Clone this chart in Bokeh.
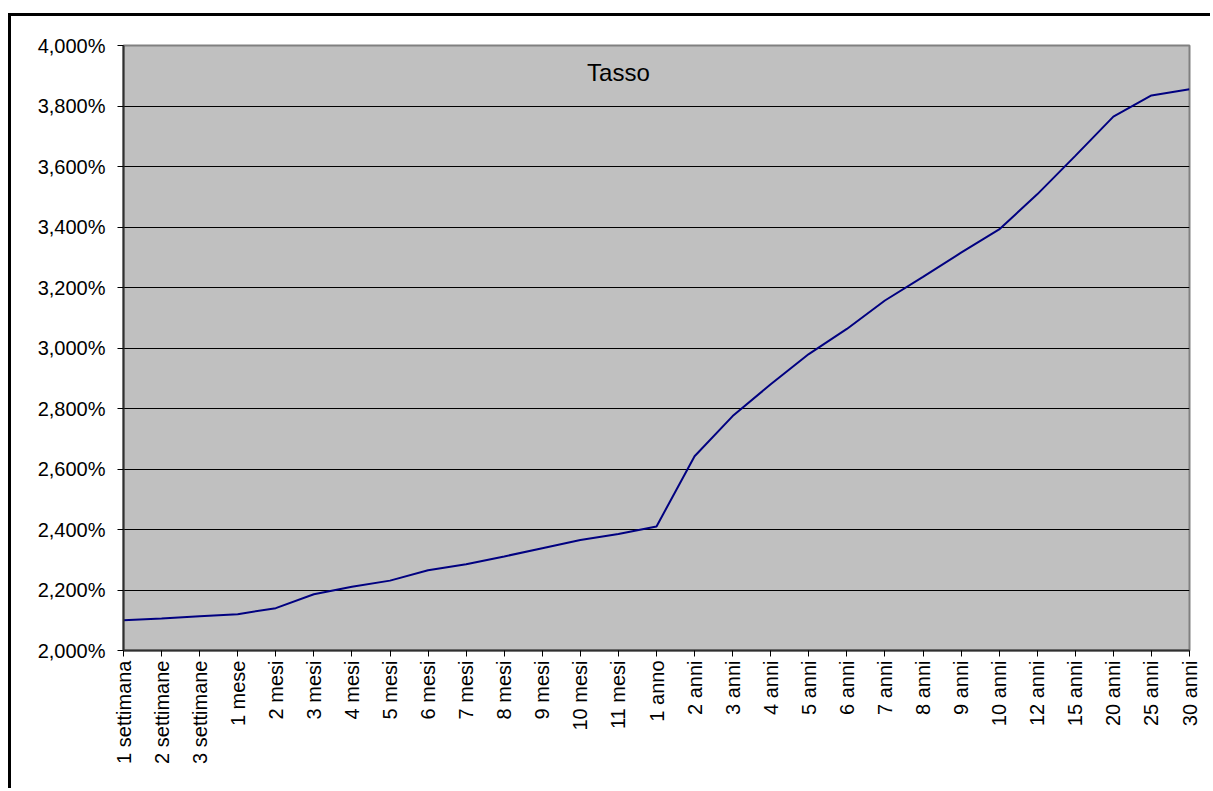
import math
from bokeh.plotting import figure
from bokeh.models import FixedTicker, CustomJSTickFormatter, Range1d, Label
from bokeh.embed import file_html
from bokeh.resources import INLINE

categories = ["1 settimana", "2 settimane", "3 settimane", "1 mese", "2 mesi", "3 mesi",
              "4 mesi", "5 mesi", "6 mesi", "7 mesi", "8 mesi", "9 mesi", "10 mesi",
              "11 mesi", "1 anno", "2 anni", "3 anni", "4 anni", "5 anni", "6 anni",
              "7 anni", "8 anni", "9 anni", "10 anni", "12 anni", "15 anni", "20 anni",
              "25 anni", "30 anni"]
tasso = [2.100, 2.106, 2.113, 2.120, 2.140, 2.186, 2.211, 2.231, 2.265, 2.285,
         2.311, 2.338, 2.365, 2.385, 2.410, 2.642, 2.775, 2.880, 2.980, 3.063,
         3.157, 3.235, 3.315, 3.392, 3.508, 3.635, 3.765, 3.835, 3.855]
y_ticks = [2.0, 2.2, 2.4, 2.6, 2.8, 3.0, 3.2, 3.4, 3.6, 3.8, 4.0]
series_name = "Tasso"

x_idx = list(range(len(categories)))
FONT = "Liberation Sans"

p = figure(width=1202, height=775, output_backend="svg", toolbar_location=None,
           x_range=Range1d(0, len(categories) - 1), y_range=Range1d(y_ticks[0], y_ticks[-1]),
           min_border_left=112, min_border_right=24, min_border_top=29, min_border_bottom=141,
           background_fill_color="#C0C0C0", border_fill_color="white",
           outline_line_color="#808080", outline_line_width=2,
           margin=(13, 0, 0, 8),
           styles={"border-left": "3px solid black", "border-top": "3px solid black"})

p.line(x_idx, tasso, line_color="#000080", line_width=2)

# axes
p.xaxis.ticker = FixedTicker(ticks=x_idx)
p.xaxis.major_label_overrides = {i: c for i, c in zip(x_idx, categories)}
p.xaxis.major_label_orientation = math.pi / 2
p.yaxis.ticker = FixedTicker(ticks=y_ticks)
p.yaxis.formatter = CustomJSTickFormatter(code="return tick.toFixed(3).replace('.', ',') + '%';")

for ax in (p.xaxis, p.yaxis):
    ax.major_label_text_font = FONT
    ax.major_label_text_font_size = "20px"
    ax.major_label_text_color = "black"
    ax.axis_line_color = "#303030"
    ax.axis_line_width = 2
    ax.major_tick_line_color = "black"
    ax.major_tick_line_width = 1
    ax.major_tick_out = 6
    ax.major_tick_in = 0
    ax.minor_tick_line_color = None
p.yaxis.major_label_standoff = 12
p.xaxis.major_label_standoff = 4

p.xgrid.grid_line_color = None
p.ygrid.grid_line_color = "black"
p.ygrid.grid_line_width = 1
p.ygrid.ticker = FixedTicker(ticks=y_ticks)

title = Label(x=13.0, y=3.91, text=series_name, text_font=FONT, text_font_size="24px",
              text_align="center", text_baseline="middle", text_color="black")
p.add_layout(title)

open("out.html", "w").write(file_html(p, INLINE))
